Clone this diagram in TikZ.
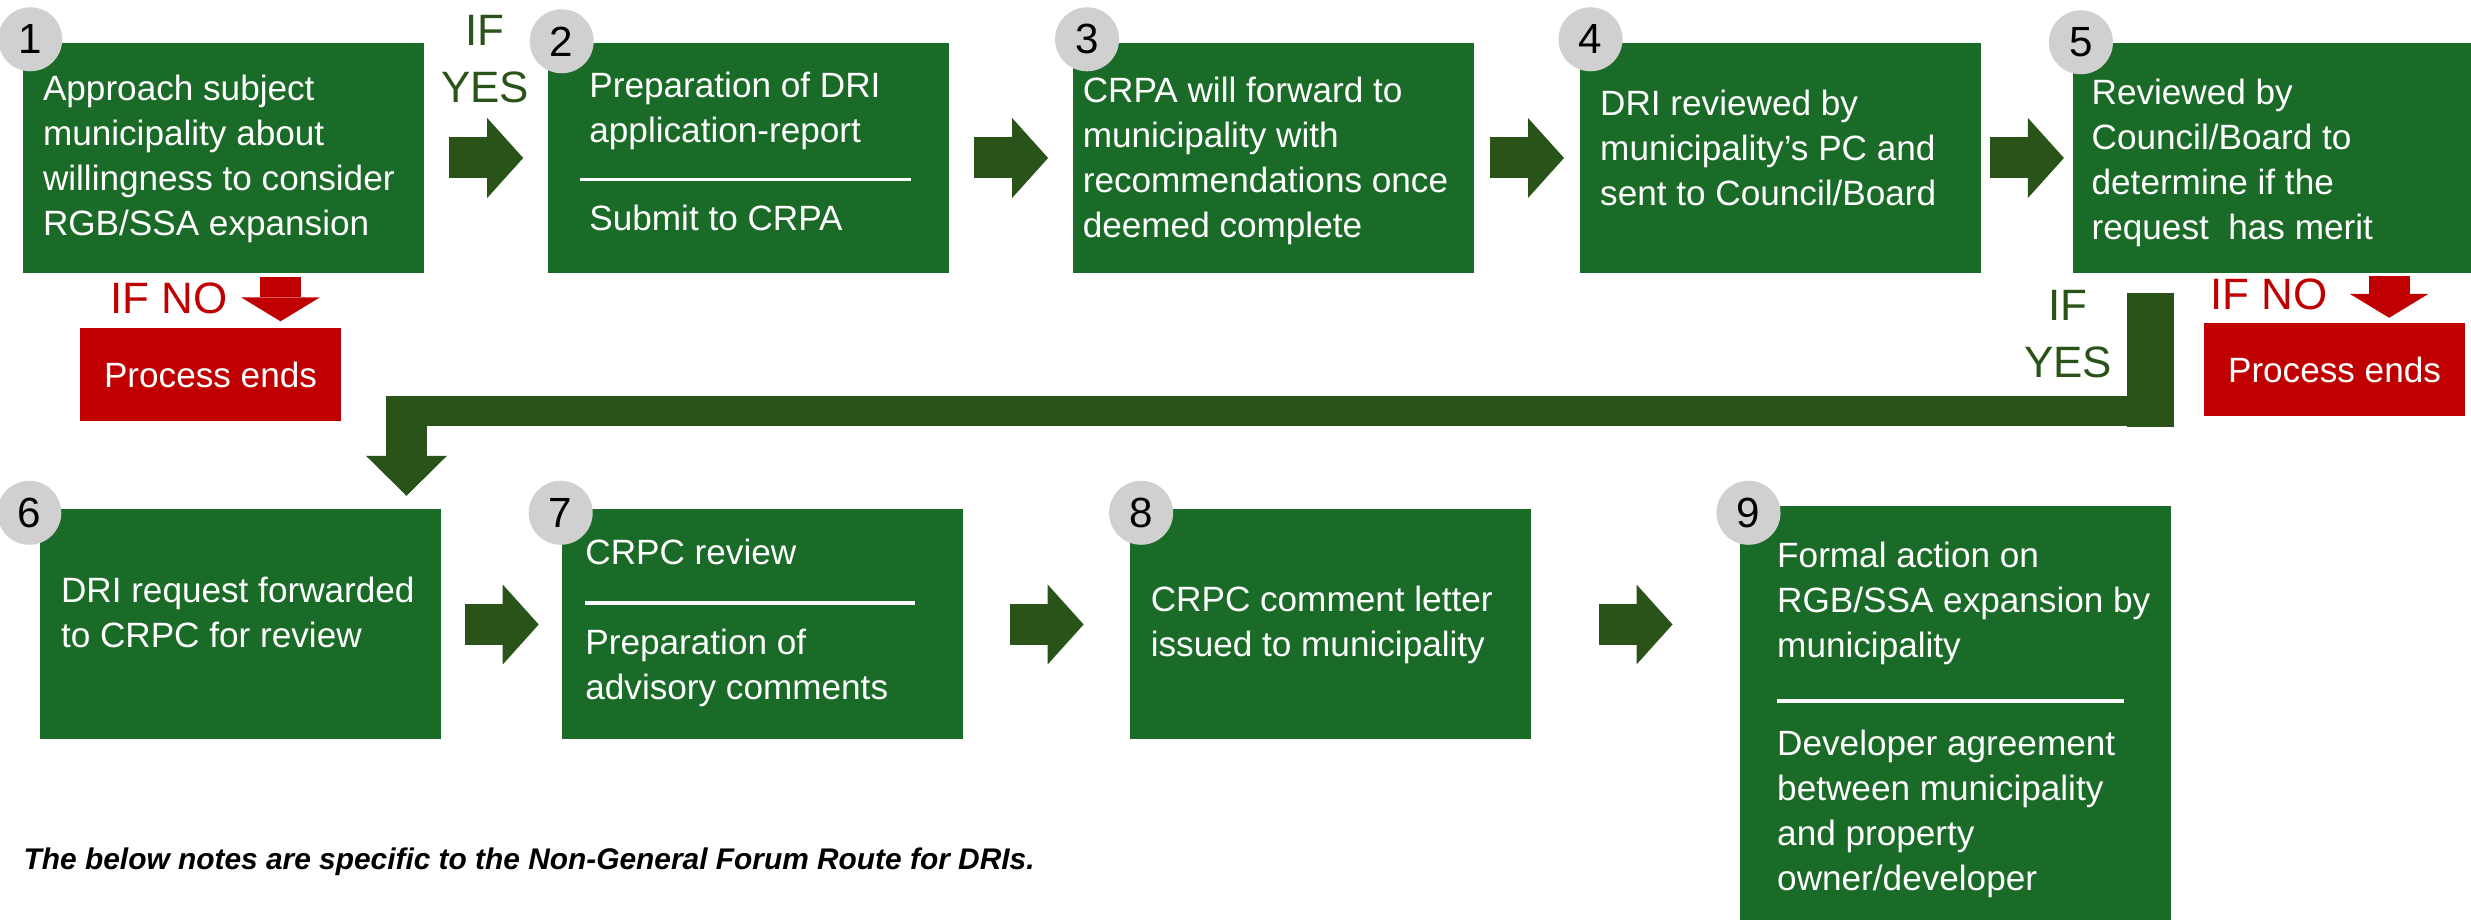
\documentclass[tikz,border=0pt]{standalone}
\usepackage{fontspec}
\setmainfont{Liberation Sans}
\usepackage{color}
\usetikzlibrary{positioning,calc,arrows.meta}

\definecolor{boxgreen}{HTML}{1B6B28}
\definecolor{arrowgreen}{HTML}{2A531A}
\definecolor{endred}{HTML}{C00000}
\definecolor{numgrey}{HTML}{D0D0D0}

\begin{document}
\begin{tikzpicture}[
			box/.style={rectangle, fill=boxgreen, minimum width=4.01cm, minimum height=2.30cm, inner sep=0pt},
			endbox/.style={rectangle, fill=endred, text=white, minimum width=2.61cm, minimum height=0.93cm, inner sep=0pt, font=\fontsize{10}{12.8}\selectfont},
			num/.style={circle, fill=numgrey, minimum size=6.4mm, inner sep=0pt, font=\fontsize{12}{14}\selectfont},
			boxtext/.style={anchor=north west, align=left, inner sep=0pt, text=white, font=\fontsize{10}{12.8}\selectfont},
			yeslabel/.style={anchor=north, align=center, inner sep=0pt, text=arrowgreen, font=\fontsize{12.5}{16.2}\selectfont},
			nolabel/.style={anchor=north west, inner sep=0pt, text=endred, font=\fontsize{12.5}{15}\selectfont},
			note/.style={anchor=north west, inner sep=0pt, font=\fontsize{8.5}{10}\selectfont\bfseries\itshape},
			flow/.style={draw=arrowgreen, line width=4.1mm, -{Triangle[length=3.6mm, width=8mm, line width=0pt]}},
			noflow/.style={draw=endred, line width=4.1mm, -{Triangle[length=2.4mm, width=7.9mm, line width=0pt]}},
			yesbar/.style={draw=arrowgreen}]
			\useasboundingbox (0,0) rectangle (24.71,-9.22);
			% top row
			\node[box] (b1) at (2.235,-1.58) {};
			\node[box] (b2) [right=1.23cm of b1] {};
			\node[box] (b3) [right=1.22cm of b2] {};
			\node[box] (b4) [right=1.05cm of b3] {};
			\node[box] (b5) [right=0.90cm of b4] {};
			% bottom row
			\node[box] (b6) at (2.405,-6.245) {};
			\node[box] (b7) [right=1.20cm of b6] {};
			\node[box] (b8) [right=1.65cm of b7] {};
			\node[box, minimum width=4.31cm, minimum height=4.14cm, anchor=north west] (b9) at ([xshift=2.08cm,yshift=0.03cm]b8.north east) {};
			\node[endbox] (end1) at (2.105,-3.745) {Process ends};
			\node[endbox] (end2) at (23.345,-3.70) {Process ends};
			% texts
			\node[boxtext] (t1) at ([xshift=2.0mm,yshift=-3.2mm]b1.north west) {Approach subject\\municipality about\\willingness to consider\\RGB/SSA expansion};
			\node[boxtext] (t2) at ([xshift=4.1mm,yshift=-2.9mm]b2.north west) {Preparation of DRI\\application-report\\[-0.6mm]\hspace*{-0.9mm}\rule{3.31cm}{1pt}\\[0.4mm]Submit to CRPA};
			\node[boxtext] (t3) at ([xshift=1.0mm,yshift=-3.4mm]b3.north west) {CRPA will forward to\\municipality with\\recommendations once\\deemed complete};
			\node[boxtext] (t4) at ([xshift=2.0mm,yshift=-4.7mm]b4.north west) {DRI reviewed by\\municipality’s PC and\\sent to Council/Board};
			\node[boxtext] (t5) at ([xshift=1.9mm,yshift=-3.6mm]b5.north west) {Reviewed by\\Council/Board to\\determine if the\\request\ \ has merit};
			\node[boxtext] (t6) at ([xshift=2.1mm,yshift=-6.8mm]b6.north west) {DRI request forwarded\\to CRPC for review};
			\node[boxtext] (t7) at ([xshift=2.3mm,yshift=-3.0mm]b7.north west) {CRPC review\\[-0.5mm]\rule{3.30cm}{1pt}\\[0.5mm]Preparation of\\advisory comments};
			\node[boxtext] (t8) at ([xshift=2.1mm,yshift=-7.7mm]b8.north west) {CRPC comment letter\\issued to municipality};
			\node[boxtext] (t9) at ([xshift=3.7mm,yshift=-3.6mm]b9.north west) {Formal action on\\RGB/SSA expansion by\\municipality\\\rule{3.47cm}{1pt}\\[0.8mm]Developer agreement\\between municipality\\and property\\owner/developer};
			% step numbers
			\node[num] (n1) at ([xshift=0.8mm,yshift=0.3mm]b1.north west) {1};
			\node[num] (n2) at ([xshift=1.4mm,yshift=0.1mm]b2.north west) {2};
			\node[num] (n3) at ([xshift=1.5mm,yshift=0.3mm]b3.north west) {3};
			\node[num] (n4) at ([xshift=1.1mm,yshift=0.3mm]b4.north west) {4};
			\node[num] (n5) at ([xshift=0.9mm]b5.north west) {5};
			\node[num] (n6) at ([xshift=-1.0mm,yshift=-0.4mm]b6.north west) {6};
			\node[num] (n7) at ([xshift=-0.1mm,yshift=-0.4mm]b7.north west) {7};
			\node[num] (n8) at ([xshift=1.2mm,yshift=-0.4mm]b8.north west) {8};
			\node[num] (n9) at ([xshift=0.9mm,yshift=-0.7mm]b9.north west) {9};
			% decision labels
			\node[yeslabel] (ifyes1) at (4.85,-0.15) {IF\\YES};
			\node[yeslabel] (ifyes2) at (20.68,-2.90) {IF\\YES};
			\node[nolabel] (ifno1) at (1.10,-2.82) {IF NO};
			\node[nolabel] (ifno2) at (22.10,-2.78) {IF NO};
			\node[note] (footnote) at (0.23,-8.47) {The below notes are specific to the Non-General Forum Route for DRIs.};
			\begin{scope}[flow]
				\foreach \a/\b in {b1/b2, b2/b3, b3/b4, b4/b5, b6/b7, b7/b8}
					\draw ([xshift=-3.7mm]$(\a.east)!0.5!(\b.west)$) -- ([xshift=3.7mm]$(\a.east)!0.5!(\b.west)$);
				\draw ([xshift=-3.7mm]$(b8.east)!0.5!(b8.east -| b9.west)$) -- ([xshift=3.7mm]$(b8.east)!0.5!(b8.east -| b9.west)$);
			\end{scope}
			\draw[noflow, shorten >=0.6mm] ([xshift=5.7mm,yshift=-0.3mm]b1.south) -- ([xshift=5.7mm]b1.south |- end1.north);
			\draw[noflow, shorten >=0.5mm] ([xshift=11.6mm,yshift=-0.2mm]b5.south) -- ([xshift=11.6mm]b5.south |- end2.north);
			% yes path from 5 back to 6
			\coordinate (yestop) at ([xshift=-12.3mm,yshift=-1.9mm]b5.south);
			\coordinate (yestip) at ([xshift=16.6mm,yshift=1.3mm]b6.north);
			\coordinate (yesrow) at (0,-4.115);
			\coordinate (yesfoot) at (0,-4.27);
			\draw[yesbar, line width=4.7mm] (yestop) -- (yestop |- yesfoot);
			\draw[yesbar, line width=3mm] ([xshift=2.35mm]yestop |- yesrow) -- ([xshift=-2.05mm]yestip |- yesrow);
			\draw[yesbar, line width=4.1mm, -{Triangle[length=4mm, width=8.1mm, line width=0pt]}] ([yshift=1.5mm]yestip |- yesrow) -- (yestip);
		\end{tikzpicture}
\end{document}
